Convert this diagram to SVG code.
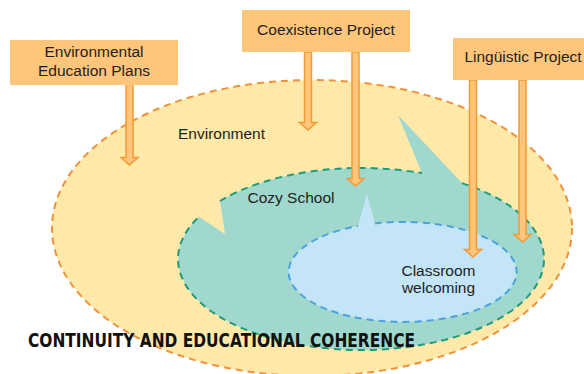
<svg xmlns="http://www.w3.org/2000/svg" width="584" height="374" viewBox="0 0 584 374">
  <style>
    .lbl { font-family: "Liberation Sans", Arial, sans-serif; font-size: 15.5px; fill: #1e1e1e; text-anchor: middle; }
    .box { fill: #ffc57b; }
    .arrow { fill: #ffc57b; stroke: #f29a36; stroke-width: 1.5; stroke-linejoin: miter; }
    .dash { fill: none; stroke-width: 2; stroke-dasharray: 7 5; }
    .title { font-family: "DejaVu Sans", "Liberation Sans", sans-serif; font-weight: bold; font-size: 19px; fill: #111; }
  </style>

  <!-- outer zone: environment -->
  <g id="environment">
    <ellipse cx="312" cy="228" rx="260" ry="148" fill="#fee9a9"/>
    <ellipse cx="312" cy="228" rx="260" ry="148" class="dash" stroke="#f0923a"/>
    <text class="lbl" x="221.5" y="139">Environment</text>
  </g>

  <!-- middle zone: school, with a pointer and a notch -->
  <g id="cozy-school">
    <path d="M220,201 A183,91 0 0,1 422,173.2 L398,115 L462,183.1 A183,91 0 1,1 199,216.7 L225,234 Z" fill="#a0d8cd"/>
    <path d="M220,201 A183,91 0 0,1 422,173.2" class="dash" stroke="#1f9b7b"/>
    <path d="M462,183.1 A183,91 0 1,1 199,216.7" class="dash" stroke="#1f9b7b"/>
    <text class="lbl" x="291" y="203">Cozy School</text>
  </g>

  <!-- inner zone: classroom -->
  <g id="classroom">
    <path d="M375,223.4 A114,50 0 1,1 358,225.9 L367,194 Z" fill="#c4e4f7"/>
    <path d="M375,223.4 A114,50 0 1,1 358,225.9" class="dash" stroke="#4aa3dc"/>
    <text class="lbl" x="438.5" y="276">Classroom</text>
    <text class="lbl" x="438.5" y="293">welcoming</text>
  </g>

  <!-- block arrows from the projects into the zones -->
  <g id="connectors">
    <path class="arrow" d="M126,84 H133 V157.5 H138 L129.5,165 L121,157.5 H126 Z"/>
    <path class="arrow" d="M304.5,52 H311.5 V122.5 H316.5 L308,130 L299.5,122.5 H304.5 Z"/>
    <path class="arrow" d="M352,52 H359 V178.5 H364 L355.5,186 L347,178.5 H352 Z"/>
    <path class="arrow" d="M469.5,80 H476.5 V249.5 H481.5 L473,257 L464.5,249.5 H469.5 Z"/>
    <path class="arrow" d="M519,80 H526 V234.5 H531 L522.5,242 L514,234.5 H519 Z"/>
  </g>

  <g id="environmental-education-plans">
    <rect class="box" x="10" y="40" width="168" height="45"/>
    <text class="lbl" x="94" y="57.3">Environmental</text>
    <text class="lbl" x="94" y="75.5">Education Plans</text>
  </g>

  <g id="coexistence-project">
    <rect class="box" x="242" y="10" width="168" height="42"/>
    <text class="lbl" x="326" y="34.5">Coexistence Project</text>
  </g>

  <g id="linguistic-project">
    <rect class="box" x="453" y="38" width="131" height="42"/>
    <text class="lbl" x="523" y="62.3">Lingüistic Project</text>
  </g>

  <text class="title" x="28" y="347" textLength="387" lengthAdjust="spacingAndGlyphs">CONTINUITY AND EDUCATIONAL COHERENCE</text>
</svg>
